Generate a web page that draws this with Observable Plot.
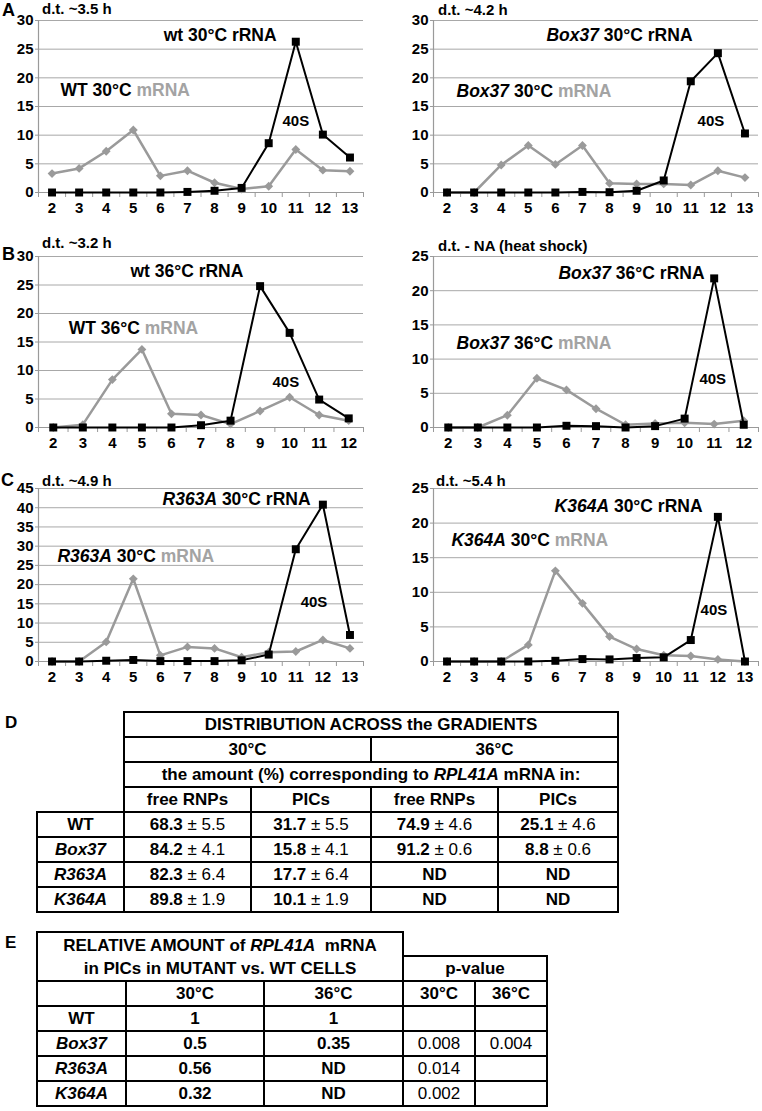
<!DOCTYPE html>
<html><head><meta charset="utf-8">
<script src="https://cdn.jsdelivr.net/npm/d3@7"></script>
<script src="https://cdn.jsdelivr.net/npm/@observablehq/plot@0.6"></script>
<style>
body{margin:0;background:#fff;font-family:"Liberation Sans",Arial,sans-serif;}
#fig{position:relative;width:762px;height:1111px;overflow:hidden;}
.pnl{position:absolute;}
.lbl{position:absolute;font-weight:bold;line-height:1;white-space:nowrap;color:#000;}
table.t{position:absolute;border-collapse:collapse;table-layout:fixed;font-family:"Liberation Sans",Arial,sans-serif;font-size:17px;}
table.t td{border:2px solid #000;padding:0;text-align:center;height:23px;line-height:23px;font-weight:bold;white-space:nowrap;overflow:hidden;}
table.t td.blank{border:none;}
table.t td.n{font-weight:normal;}
table.t span.sd{font-weight:normal;}
</style></head><body><div id="fig"></div>
<script>
// ---------- DATA ----------
const fractions13 = [2,3,4,5,6,7,8,9,10,11,12,13];
const fractions12 = [2,3,4,5,6,7,8,9,10,11,12];

const wt30_rRNA    = [0,0,0,0,0,0.1,0.3,0.8,8.6,26.3,10.1,6.1];
const wt30_mRNA    = [3.3,4.2,7.2,10.9,2.9,3.8,1.7,0.6,1.1,7.5,3.9,3.7];
const box30_rRNA   = [0,0,0,0,0,0.1,0.05,0.3,2.1,19.4,24.3,10.3];
const box30_mRNA   = [0,0,4.8,8.2,4.9,8.2,1.6,1.5,1.5,1.3,3.8,2.6];
const wt36_rRNA    = [0,0,0,0,0,0.4,1.2,24.8,16.6,4.9,1.6];
const wt36_mRNA    = [0,0.5,8.4,13.7,2.4,2.2,0.6,2.9,5.3,2.2,1.2];
const box36_rRNA   = [0,0,0,0,0.25,0.2,0,0.2,1.3,21.8,0.4];
const box36_mRNA   = [0,0,1.8,7.2,5.5,2.75,0.4,0.6,0.7,0.5,1.0];
const r363a_rRNA   = [0,0,0.2,0.4,0.1,0.1,0.1,0.3,1.8,29.2,40.8,6.9];
const r363a_mRNA   = [0,0,5.1,21.5,1.6,3.8,3.4,1.1,2.4,2.6,5.6,3.4];
const k364a_rRNA   = [0,0,0,0,0.1,0.35,0.3,0.5,0.6,3.1,20.9,0];
const k364a_mRNA   = [0,0,0,2.4,13.1,8.4,3.6,1.8,0.9,0.8,0.3,0];

const yMaxes = [30,30,30,25,45,25];
const panelLetters = ["A","B","C","D","E"];
const doublingTimes = ["d.t. ~3.5 h","d.t. ~4.2 h","d.t. ~3.2 h","d.t. - NA (heat shock)","d.t. ~4.9 h","d.t. ~5.4 h"];
const rRNALabels = ["wt 30°C rRNA","<i>Box37</i> 30°C rRNA","wt 36°C rRNA","<i>Box37</i> 36°C rRNA","<i>R363A</i> 30°C rRNA","<i>K364A</i> 30°C rRNA"];
const mRNALabels = ["WT 30°C <g>mRNA</g>","<i>Box37</i> 30°C <g>mRNA</g>","WT 36°C <g>mRNA</g>","<i>Box37</i> 36°C <g>mRNA</g>","<i>R363A</i> 30°C <g>mRNA</g>","<i>K364A</i> 30°C <g>mRNA</g>"];
const peakLabel = "40S";
// annotation anchors in data units (fraction, %)
const rLabelAt = [[6.12,27.4],[5.67,27.4],[4.61,27.4],[5.73,22.5],[6.08,42.1],[5.97,22.4]];
const mLabelAt = [[2.31,17.8],[2.35,17.6],[2.52,17.4],[2.28,12.3],[2.2,27.3],[2.16,17.5]];
const peakAt   = [[10.51,12.4],[11.25,12.4],[9.42,7.9],[10.5,7.1],[11.18,15.3],[11.36,7.4]];

// Table D
const strains = ["WT","Box37","R363A","K364A"];
const tD_title = "DISTRIBUTION ACROSS the GRADIENTS";
const tD_temps = ["30°C","36°C"];
const tD_sub = "the amount (%) corresponding to <i>RPL41A</i> mRNA in:";
const tD_cols = ["free RNPs","PICs","free RNPs","PICs"];
const free30 = ["68.3","84.2","82.3","89.8"], free30sd = ["5.5","4.1","6.4","1.9"];
const pics30 = ["31.7","15.8","17.7","10.1"], pics30sd = ["5.5","4.1","6.4","1.9"];
const free36 = ["74.9","91.2","ND","ND"],   free36sd = ["4.6","0.6","",""];
const pics36 = ["25.1","8.8","ND","ND"],    pics36sd = ["4.6","0.6","",""];
// Table E
const tE_title = ["RELATIVE AMOUNT of <i>RPL41A</i>&nbsp; mRNA","in PICs in MUTANT vs. WT CELLS"];
const tE_p = "p-value";
const rel30 = ["1","0.5","0.56","0.32"];
const rel36 = ["1","0.35","ND","ND"];
const pval30 = ["","0.008","0.014","0.002"];
const pval36 = ["","0.004","",""];

// ---------- LAYOUT ----------
const fig = document.getElementById("fig");
const FONT = "Liberation Sans, Arial, sans-serif";

function rich(svg) {
  svg.querySelectorAll("text").forEach(t => {
    const s = t.textContent;
    if (!s.includes("<")) return;
    t.textContent = "";
    s.split(/(<i>.*?<\/i>|<g>.*?<\/g>)/).filter(p => p.length).forEach(p => {
      const ts = document.createElementNS("http://www.w3.org/2000/svg","tspan");
      if (p.startsWith("<i>")) { ts.textContent = p.slice(3,-4); ts.setAttribute("font-style","italic"); }
      else if (p.startsWith("<g>")) { ts.textContent = p.slice(3,-4); ts.setAttribute("fill","#a3a3a3"); }
      else ts.textContent = p;
      t.appendChild(ts);
    });
    t.setAttribute("style","white-space:pre");
  });
}

function panel(i, fr, rr, mm, isLeft, top, height, mt, mb) {
  const rows = fr.map((f,k)=>({f, r: rr[k], m: mm[k]}));
  const x0 = fr[0]-0.5, x1 = fr[fr.length-1]+0.5;
  const yMax = yMaxes[i];
  const yT = d3.range(0, yMax+0.01, 5);
  const bounds = d3.range(x0, x1+0.01, 1);
  const big = [
    {x: rLabelAt[i][0], y: rLabelAt[i][1], t: rRNALabels[i]},
    {x: mLabelAt[i][0], y: mLabelAt[i][1], t: mRNALabels[i]}
  ];
  const pk = [{x: peakAt[i][0], y: peakAt[i][1], t: peakLabel}];
  const chart = Plot.plot({
    width: 381, height, marginTop: mt, marginBottom: mb,
    marginLeft: isLeft ? 38 : 52, marginRight: isLeft ? 18 : 4,
    style: {background: "transparent", fontFamily: FONT, overflow: "visible"},
    x: {domain: [x0, x1]},
    y: {domain: [0, yMax]},
    marks: [
      Plot.gridY(yT, {stroke: "#a8a8a8", strokeOpacity: 1, strokeWidth: 1}),
      Plot.ruleX([x0], {stroke: "#9a9a9a", strokeWidth: 1.2}),
      Plot.ruleY([0], {stroke: "#9a9a9a", strokeWidth: 1.2}),
      Plot.ruleX(bounds, {y1: 0, y2: 0, insetBottom: -5, stroke: "#9a9a9a"}),
      Plot.axisY(yT, {anchor: "left", tickSize: 3, tickPadding: 2, stroke: "#9a9a9a", fill: "#000", fontSize: 15, fontWeight: "bold", label: null}),
      Plot.axisX(fr, {anchor: "bottom", tickSize: 0, tickPadding: 10, fill: "#000", fontSize: 15, fontWeight: "bold", label: null}),
      Plot.line(rows, {x: "f", y: "m", stroke: "#9a9a9a", strokeWidth: 2.5}),
      Plot.dot(rows, {x: "f", y: "m", symbol: "diamond2", fill: "#9a9a9a", r: 4}),
      Plot.line(rows, {x: "f", y: "r", stroke: "#000", strokeWidth: 2}),
      Plot.dot(rows, {x: "f", y: "r", symbol: "square", fill: "#000", r: 4.5}),
      Plot.text(big, {x: "x", y: "y", text: "t", textAnchor: "start", fontSize: 17.5, fontWeight: "bold", fill: "#000"}),
      Plot.text(pk, {x: "x", y: "y", text: "t", textAnchor: "start", fontSize: 15, fontWeight: "bold", fill: "#000"})
    ]
  });
  rich(chart);
  const d = document.createElement("div");
  d.className = "pnl";
  d.style.left = (isLeft ? 0 : 381) + "px";
  d.style.top = top + "px";
  d.appendChild(chart);
  fig.appendChild(d);
}

panel(0, fractions13, wt30_rRNA, wt30_mRNA, true, 0, 222, 20, 30);
panel(1, fractions13, box30_rRNA, box30_mRNA, false, 0, 222, 20, 30);
panel(2, fractions12, wt36_rRNA, wt36_mRNA, true, 222, 232, 34, 27);
panel(3, fractions12, box36_rRNA, box36_mRNA, false, 222, 232, 34, 27);
panel(4, fractions13, r363a_rRNA, r363a_mRNA, true, 454, 237, 34, 30);
panel(5, fractions13, k364a_rRNA, k364a_mRNA, false, 454, 237, 34, 30);

function label(text, x, cy, size) {
  const d = document.createElement("div");
  d.className = "lbl";
  d.style.left = x + "px";
  d.style.top = (cy - size/2) + "px";
  d.style.fontSize = size + "px";
  d.textContent = text;
  fig.appendChild(d);
}
label(panelLetters[0], 2, 10, 18);
label(panelLetters[1], 2, 254, 18);
label(panelLetters[2], 1, 480, 18);
label(panelLetters[3], 5, 722, 17);
label(panelLetters[4], 5, 942, 17);
label(doublingTimes[0], 42, 8, 15);
label(doublingTimes[1], 438, 9, 15);
label(doublingTimes[2], 42, 242, 15);
label(doublingTimes[3], 438, 245, 15);
label(doublingTimes[4], 42, 480, 15);
label(doublingTimes[5], 436, 480, 15);

// ---------- TABLES ----------
function strainCell(k) {
  return k === 0 ? `<td>${strains[k]}</td>` : `<td><i>${strains[k]}</i></td>`;
}
function valCell(v, sd) {
  return sd ? `<td>${v}<span class="sd"> ± ${sd}</span></td>` : `<td>${v}</td>`;
}
let hD = `<colgroup><col style="width:87px"><col style="width:127px"><col style="width:120px"><col style="width:127px"><col style="width:120px"></colgroup>`;
hD += `<tr><td class="blank"></td><td colspan="4">${tD_title}</td></tr>`;
hD += `<tr><td class="blank"></td><td colspan="2">${tD_temps[0]}</td><td colspan="2">${tD_temps[1]}</td></tr>`;
hD += `<tr><td class="blank"></td><td colspan="4">${tD_sub}</td></tr>`;
hD += `<tr><td class="blank"></td>${tD_cols.map(c=>`<td>${c}</td>`).join("")}</tr>`;
strains.forEach((s,k) => {
  hD += `<tr>${strainCell(k)}${valCell(free30[k],free30sd[k])}${valCell(pics30[k],pics30sd[k])}${valCell(free36[k],free36sd[k])}${valCell(pics36[k],pics36sd[k])}</tr>`;
});
const tD = document.createElement("table");
tD.className = "t"; tD.style.left = "36px"; tD.style.top = "711px"; tD.style.width = "581px";
tD.innerHTML = hD;
fig.appendChild(tD);

let hE = `<colgroup><col style="width:89px"><col style="width:138px"><col style="width:139px"><col style="width:72px"><col style="width:72px"></colgroup>`;
hE += `<tr><td colspan="3" rowspan="2" style="line-height:23px">${tE_title[0]}<br>${tE_title[1]}</td><td colspan="2" class="blank"></td></tr>`;
hE += `<tr><td colspan="2">${tE_p}</td></tr>`;
hE += `<tr><td></td><td>${tD_temps[0]}</td><td>${tD_temps[1]}</td><td>${tD_temps[0]}</td><td>${tD_temps[1]}</td></tr>`;
strains.forEach((s,k) => {
  hE += `<tr>${strainCell(k)}<td>${rel30[k]}</td><td>${rel36[k]}</td><td class="n">${pval30[k]}</td><td class="n">${pval36[k]}</td></tr>`;
});
const tE = document.createElement("table");
tE.className = "t"; tE.style.left = "36px"; tE.style.top = "931px"; tE.style.width = "510px";
tE.innerHTML = hE;
fig.appendChild(tE);
</script>
</body></html>
